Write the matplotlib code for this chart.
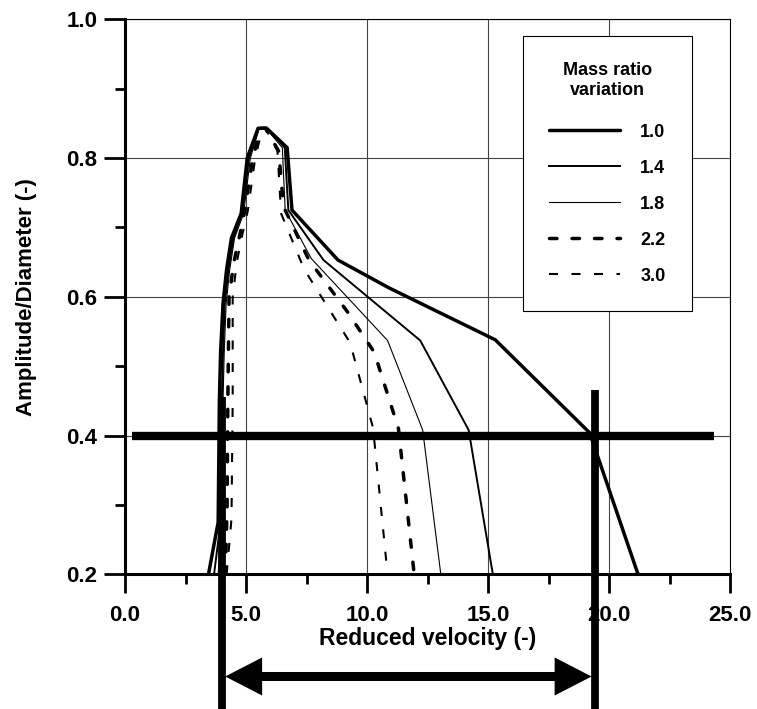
import matplotlib
matplotlib.use('Agg')
import matplotlib.pyplot as plt
from matplotlib.patches import FancyArrowPatch
from matplotlib.ticker import MultipleLocator, FormatStrFormatter

plt.rcParams['font.family'] = ['Liberation Sans', 'DejaVu Sans']
plt.rcParams['font.weight'] = 'bold'
plt.rcParams['lines.scale_dashes'] = False

# reduced velocity (x) and amplitude/diameter (y) for each mass ratio
vr_10 = [3.45, 3.85, 3.9, 3.95, 4.05, 4.2, 4.4, 4.8, 5.05, 5.5, 5.85, 6.7, 6.9, 8.8, 10.9, 15.3, 19.2, 21.2]
ad_10 = [0.20, 0.275, 0.45, 0.52, 0.59, 0.64, 0.685, 0.72, 0.80, 0.843, 0.843, 0.815, 0.725, 0.653, 0.613, 0.538, 0.404, 0.20]

vr_14 = [3.68, 3.95, 4.0, 4.05, 4.12, 4.28, 4.48, 4.85, 5.12, 5.52, 5.85, 6.6, 6.75, 8.2, 12.2, 14.2, 15.2]
ad_14 = [0.20, 0.275, 0.45, 0.52, 0.59, 0.64, 0.685, 0.72, 0.80, 0.843, 0.843, 0.815, 0.725, 0.653, 0.537, 0.408, 0.20]

vr_18 = [3.85, 4.0, 4.05, 4.1, 4.18, 4.33, 4.53, 4.9, 5.18, 5.55, 5.82, 6.5, 6.62, 7.7, 10.85, 12.3, 13.05]
ad_18 = [0.20, 0.275, 0.45, 0.52, 0.59, 0.64, 0.685, 0.72, 0.80, 0.843, 0.843, 0.815, 0.725, 0.655, 0.537, 0.408, 0.20]

vr_22 = [4.15, 4.22, 4.25, 4.3, 4.5, 4.75, 4.95, 5.28, 5.62, 5.8, 6.35, 6.55, 7.6, 9.2, 10.3, 11.3, 11.95]
ad_22 = [0.20, 0.30, 0.45, 0.60, 0.65, 0.69, 0.725, 0.80, 0.843, 0.843, 0.81, 0.73, 0.653, 0.578, 0.52, 0.41, 0.20]

vr_30 = [4.2, 4.4, 4.45, 4.45, 4.62, 4.85, 5.08, 5.38, 5.68, 5.8, 6.3, 6.45, 7.4, 8.4, 9.3, 10.25, 10.85]
ad_30 = [0.20, 0.28, 0.45, 0.60, 0.65, 0.69, 0.725, 0.80, 0.843, 0.843, 0.81, 0.72, 0.64, 0.584, 0.534, 0.411, 0.20]

mass_ratios = ['1.0', '1.4', '1.8', '2.2', '3.0']

# lock-in range read at A/D = 0.4
lock_level = 0.4
lock_start = 4.0
lock_end = 19.42
lock_top = [0.456, 0.466]
arrow_level = 0.0527

fig = plt.figure(figsize=(7.57, 7.09), dpi=100)
ax = fig.add_axes([125 / 757, 1 - 574.3 / 709, 605 / 757, 555 / 709])

ax.plot(vr_10, ad_10, color='black', lw=2.5, solid_capstyle='round', label=mass_ratios[0])
ax.plot(vr_14, ad_14, color='black', lw=1.4, label=mass_ratios[1])
ax.plot(vr_18, ad_18, color='black', lw=0.8, label=mass_ratios[2])
ax.plot(vr_22, ad_22, color='black', lw=2.5, dashes=(5.4, 10.8), dash_capstyle='round', label=mass_ratios[3])
ax.plot(vr_30, ad_30, color='black', lw=1.5, dashes=(6.5, 9.7), label=mass_ratios[4])

ax.set_xlim(0, 25)
ax.set_ylim(0.2, 1.0)
ax.xaxis.set_major_locator(MultipleLocator(5))
ax.xaxis.set_minor_locator(MultipleLocator(2.5))
ax.yaxis.set_major_locator(MultipleLocator(0.2))
ax.yaxis.set_minor_locator(MultipleLocator(0.1))
ax.xaxis.set_major_formatter(FormatStrFormatter('%.1f'))
ax.yaxis.set_major_formatter(FormatStrFormatter('%.1f'))
ax.tick_params(which='both', direction='out', width=2, labelsize=16)
ax.tick_params(axis='x', which='major', length=14, pad=8)
ax.tick_params(axis='y', which='major', length=15, pad=5)
ax.tick_params(which='minor', length=7.5)
ax.grid(True, which='major', color='#444444', lw=0.8)
ax.set_axisbelow(True)

for side in ['top', 'right']:
    ax.spines[side].set_linewidth(0.8)
for side in ['left', 'bottom']:
    ax.spines[side].set_linewidth(2.2)

# lock-in markers
ax.plot([0.3, 24.35], [lock_level, lock_level], color='black', lw=6, solid_capstyle='butt', clip_on=False)
ax.plot([lock_start, lock_start], [lock_top[0], -0.1], color='black', lw=5.6, solid_capstyle='butt', clip_on=False)
ax.plot([lock_end, lock_end], [lock_top[1], -0.1], color='black', lw=5.6, solid_capstyle='butt', clip_on=False)

ax.plot([lock_start + 1.0, lock_end - 1.0], [arrow_level, arrow_level], color='black', lw=6.5,
        solid_capstyle='butt', clip_on=False)
heads = FancyArrowPatch((lock_start + 0.14, arrow_level), (lock_end - 0.14, arrow_level),
                        arrowstyle='<|-|>,head_length=26.6,head_width=13.7', mutation_scale=1,
                        shrinkA=0, shrinkB=0, lw=0, color='black', clip_on=False)
ax.add_patch(heads)

leg = ax.legend(title='Mass ratio\nvariation', loc='upper left', bbox_to_anchor=(0.658, 0.970),
                borderaxespad=0, fontsize=13, title_fontsize=13, handlelength=3.94,
                handletextpad=1.1, labelspacing=1.05, borderpad=1.45, fancybox=False,
                edgecolor='black', framealpha=1)
leg.get_frame().set_linewidth(0.8)
leg.get_title().set_multialignment('center')
# extra room between the title and the entries
leg._legend_box.sep = 18

fig.text(427.5 / 757, 1 - 645 / 709, 'Reduced velocity (-)', ha='center', va='baseline', fontsize=16.5)
fig.text(27 / 757, 1 - 297 / 709, 'Amplitude/Diameter (-)', ha='center', va='center',
         rotation=90, fontsize=16)

fig.savefig('out.png', dpi=100)
